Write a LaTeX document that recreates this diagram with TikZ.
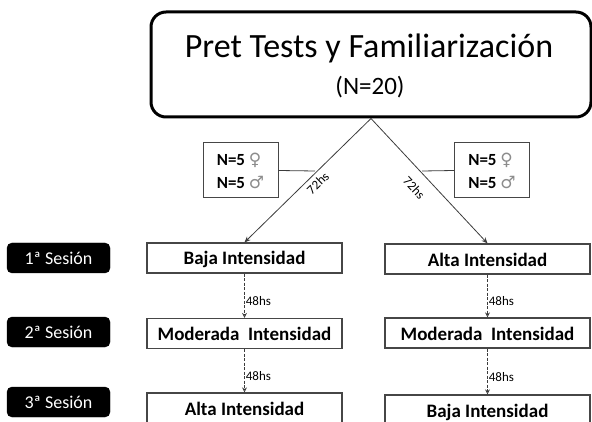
\documentclass[tikz,border=0pt]{standalone}
\usepackage{fontspec}
\setmainfont{Carlito}
\newfontfamily\symfont{DejaVu Sans}
\usetikzlibrary{arrows.meta}
\definecolor{boxgrey}{RGB}{70,70,70}
\definecolor{symgrey}{RGB}{140,140,140}
\definecolor{linkgrey}{RGB}{60,60,60}

\tikzset{
  topbox/.style={draw, line width=3pt, rounded corners=15pt, minimum width=440pt, minimum height=105pt},
  intbox/.style={draw=boxgrey, line width=1.2pt, minimum height=30pt, inner sep=0pt, text height=16pt, text depth=2pt, font=\fontsize{19}{19}\selectfont\bfseries},
  sesbox/.style={fill=black, draw=black, rounded corners=5pt, text=white, minimum width=103pt, minimum height=30pt, inner sep=0pt, text height=15pt, text depth=1.5pt, font=\fontsize{18}{18}\selectfont},
  genbox/.style={draw=boxgrey, line width=1pt, minimum width=75pt, minimum height=55pt, inner sep=2pt, align=left, font=\fontsize{17}{23}\selectfont\bfseries},
  link/.style={draw=linkgrey, line width=0.8pt, -{Stealth[length=6pt,width=5pt]}},
  steplink/.style={draw=linkgrey, line width=0.7pt, dashed, dash pattern=on 3pt off 1.5pt, -{Stealth[length=5pt,width=5pt,open]}},
  hslabel/.style={font=\fontsize{13}{13}\selectfont, text=black, inner sep=1pt}
}
\newcommand{\fem}{{\symfont\color{symgrey}\char"2640}}
\newcommand{\masc}{{\symfont\color{symgrey}\char"2642}}

\begin{document}
\begin{tikzpicture}[x=1pt, y=-1pt]
    \useasboundingbox (0,0) rectangle (592,422);
    % header
    \node[topbox] (pret) at (371,64.5) {};
    \node[font=\fontsize{34}{34}\selectfont] (title) at (369,48) {Pret Tests y Familiarización};
    \node[font=\fontsize{25}{25}\selectfont] (ntotal) at (370,87) {(N=20)};
    % sessions
    \node[sesbox] (ses1) at (58.5,258) {1ª Sesión};
    \node[sesbox] (ses2) at (58.5,332) {2ª Sesión};
    \node[sesbox] (ses3) at (58.5,402) {3ª Sesión};
    % left group
    \node[intbox, minimum width=195pt] (baja1) at (244.5,258) {Baja Intensidad};
    \node[intbox, minimum width=195pt] (mod1) at (244.5,333.5) {Moderada~ Intensidad};
    \node[intbox, minimum width=195pt] (alta1) at (244.5,408) {Alta Intensidad};
    % right group
    \node[intbox, minimum width=205pt] (alta2) at (487.5,259) {Alta Intensidad};
    \node[intbox, minimum width=205pt] (mod2) at (487.5,333) {Moderada~ Intensidad};
    \node[intbox, minimum width=205pt] (baja2) at (487.5,410) {Baja Intensidad};
    % gender boxes
    \node[genbox] (genL) at (240.5,170.5) {N=5 \fem\\N=5 \masc};
    \node[genbox] (genR) at (492,170.5) {N=5 \fem\\N=5 \masc};
    \coordinate (joinL) at (315,171);
    \coordinate (joinR) at (422,171);
    % connectors
    \draw[link] (pret.south) -- node[hslabel, sloped, below=3pt, pos=0.47] {72hs} (baja1.north);
    \draw[link] (pret.south) -- node[hslabel, sloped, below=10pt, pos=0.47] {72hs} (alta2.north);
    \draw[linkgrey, line width=0.8pt] (genL.east) -- (joinL);
    \draw[linkgrey, line width=0.8pt] (genR.west) -- (joinR);
    \foreach \a/\b in {baja1/mod1, mod1/alta1, alta2/mod2, mod2/baja2}
      \draw[steplink] (\a.south) -- node[hslabel, right, pos=0.62] {48hs} (\b.north);
\end{tikzpicture}
\end{document}
